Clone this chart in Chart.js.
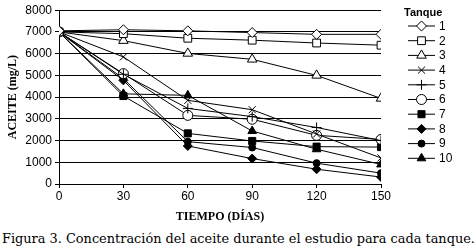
<!DOCTYPE html>
<html>
<head>
<meta charset="utf-8">
<script src="https://cdn.jsdelivr.net/npm/chart.js@4.4.1/dist/chart.umd.min.js"></script>
<style>
  body { margin: 0; background: #fff; width: 476px; height: 252px; overflow: hidden; }
  #wrap { position: relative; width: 476px; height: 224px; }
  #caption { font-family: "DejaVu Serif", serif; font-size: 12.9px; color: #000; margin: 0; padding-left: 2px; line-height: 30px; white-space: nowrap; }
</style>
</head>
<body>
<div id="wrap"><canvas id="chart" width="476" height="224"></canvas></div>
<p id="caption">Figura 3. Concentración del aceite durante el estudio para cada tanque.</p>
<script>
const days = [0, 30, 60, 90, 120, 150];
const tankNames = ['1', '2', '3', '4', '5', '6', '7', '8', '9', '10'];
const tank1 = [7050, 7100, 7050, 6970, 6890, 6890];
const tank2 = [7000, 6920, 6710, 6620, 6490, 6390];
const tank3 = [7000, 6600, 6010, 5740, 5000, 3940];
const tank4 = [7000, 5850, 3850, 3420, 2300, 1200];
const tank5 = [7000, 5050, 3480, 3100, 2600, 2000];
const tank6 = [7000, 5080, 3160, 2980, 2240, 2050];
const tank7 = [7000, 4050, 2330, 1980, 1720, 1700];
const tank8 = [7000, 4770, 1750, 1170, 680, 320];
const tank9 = [7000, 4850, 1950, 1680, 960, 500];
const tank10 = [7000, 4150, 4080, 2440, 1600, 900];
const yTicks = [0, 1000, 2000, 3000, 4000, 5000, 6000, 7000, 8000];

const allTanks = [tank1, tank2, tank3, tank4, tank5, tank6, tank7, tank8, tank9, tank10];
// marker look for each tank: [pointStyle, filled, radius]
const markers = [
    ['rectRot', false, 5],
    ['rect', false, 5.5],
    ['triangle', false, 5.5],
    ['crossRot', false, 5],
    ['cross', false, 5],
    ['circle', false, 5],
    ['rect', true, 5],
    ['rectRot', true, 4.5],
    ['circle', true, 3.5],
    ['triangle', true, 5]
];

const datasets = allTanks.map((vals, i) => ({
    label: tankNames[i],
    data: days.map((d, j) => ({ x: d, y: vals[j] })),
    borderColor: '#000',
    borderWidth: 1,
    pointStyle: markers[i][0],
    pointRadius: markers[i][2],
    pointBackgroundColor: markers[i][1] ? '#000' : '#fff',
    pointBorderColor: '#000',
    pointBorderWidth: 1,
    fill: false,
    tension: 0
}));

const tankLegend = {
    id: 'tankLegend',
    afterDraw(chart) {
        const ctx = chart.ctx;
        ctx.save();
        ctx.fillStyle = '#000';
        ctx.font = 'bold 11px Arial, sans-serif';
        ctx.textBaseline = 'middle';
        ctx.fillText('Tanque', 404, 13);
        ctx.font = '12px Arial, sans-serif';
        chart.data.datasets.forEach((ds, i) => {
            const y = 26 + i * 14.7;
            ctx.strokeStyle = '#000';
            ctx.lineWidth = 1;
            ctx.beginPath();
            ctx.moveTo(408, y);
            ctx.lineTo(435, y);
            ctx.stroke();
            ctx.fillStyle = ds.pointBackgroundColor;
            ctx.strokeStyle = '#000';
            Chart.helpers.drawPoint(ctx, {
                pointStyle: ds.pointStyle,
                radius: ds.pointRadius,
                borderWidth: 1,
                rotation: 0
            }, 421.5, y);
            ctx.fillStyle = '#000';
            ctx.fillText(ds.label, 439, y + 0.5);
        });
        ctx.restore();
    }
};

const tickFont = { family: 'Arial, sans-serif', size: 12 };
const titleFont = { family: '"Times New Roman", serif', size: 12, weight: 'bold' };

new Chart(document.getElementById('chart'), {
    type: 'line',
    data: { datasets },
    options: {
        responsive: false,
        animation: false,
        layout: { autoPadding: false, padding: { left: 6, top: 10, right: 95, bottom: 0 } },
        plugins: { legend: { display: false }, tooltip: { enabled: false } },
        scales: {
            x: {
                type: 'linear',
                min: 0,
                max: 150,
                afterBuildTicks: s => { s.ticks = days.map(v => ({ value: v })); },
                grid: { display: true, drawOnChartArea: false, tickLength: 4, color: '#000' },
                border: { color: '#000', width: 1 },
                ticks: { color: '#000', font: tickFont, padding: 1, maxRotation: 0, callback: v => String(v) },
                title: { display: true, text: 'TIEMPO (DÍAS)', color: '#000', font: titleFont, padding: { top: 4, bottom: 0 } },
                afterFit: s => { s.height = 40; }
            },
            y: {
                min: 0,
                max: 8000,
                afterBuildTicks: s => { s.ticks = yTicks.map(v => ({ value: v })); },
                grid: { color: '#000', lineWidth: 1, tickLength: 4, drawTicks: true },
                border: { color: '#000', width: 1 },
                ticks: { color: '#000', font: tickFont, padding: 3, callback: v => String(v) },
                title: { display: true, text: 'ACEITE (mg/L)', color: '#000', font: titleFont, padding: 0 },
                afterFit: s => { s.width = 53; }
            }
        }
    },
    plugins: [tankLegend]
});
</script>
</body>
</html>
